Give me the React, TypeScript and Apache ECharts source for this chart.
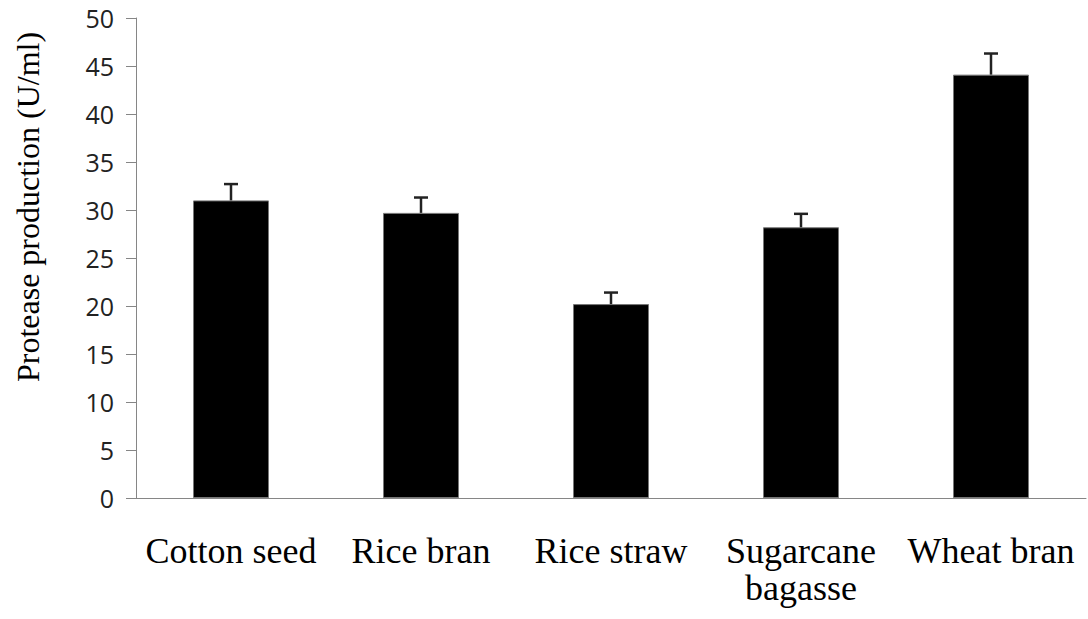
import React, { useEffect, useRef } from "react";
import * as echarts from "echarts";

const categories = ["Cotton seed", "Rice bran", "Rice straw", "Sugarcane bagasse", "Wheat bran"];
const values = [31.0, 29.7, 20.2, 28.2, 44.1];
const errorUpper = [32.7, 31.3, 21.4, 29.6, 46.3];
const yTicks = { min: 0, max: 50, interval: 5 };
const yAxisName = "Protease production (U/ml)";

export default function App() {
  const ref = useRef<HTMLDivElement>(null);
  useEffect(() => {
    if (!ref.current) return;
    const chart = echarts.init(ref.current, null, { renderer: "svg" });
    chart.setOption({
      animation: false,
      grid: { left: 136, right: 2, top: 18, bottom: 121, containLabel: false },
      xAxis: {
        type: "category",
        data: categories,
        axisLine: { lineStyle: { color: "#868686", width: 1 } },
        axisTick: { show: false },
        axisLabel: {
          interval: 0,
          margin: 34,
          color: "#000",
          fontFamily: "Liberation Serif",
          fontSize: 36,
          lineHeight: 37,
          formatter: (v: string) => (v === "Sugarcane bagasse" ? "Sugarcane\nbagasse" : v),
        },
      },
      yAxis: {
        type: "value",
        min: yTicks.min,
        max: yTicks.max,
        interval: yTicks.interval,
        name: yAxisName,
        nameLocation: "middle",
        nameGap: 92,
        nameRotate: 90,
        nameTextStyle: {
          fontFamily: "Liberation Serif",
          fontSize: 32,
          color: "#000",
          padding: [0, 0, 0, 102],
        },
        axisLine: { show: true, lineStyle: { color: "#868686", width: 1 } },
        axisTick: { show: true, length: 10, lineStyle: { color: "#868686" } },
        splitLine: { show: false },
        axisLabel: {
          margin: 22,
          color: "#222",
          fontFamily: "Open Sans",
          fontSize: 25,
        },
      },
      series: [
        {
          type: "bar",
          data: values,
          barCategoryGap: "60%",
          itemStyle: { color: "#000", borderColor: "#777", borderWidth: 1 },
          z: 2,
        },
        {
          type: "custom",
          data: values.map((v, i) => [i, v, errorUpper[i]]),
          z: 3,
          renderItem: (params: any, api: any) => {
            const i = api.value(0);
            const p0 = api.coord([i, api.value(1)]);
            const p1 = api.coord([i, api.value(2)]);
            const half = 7;
            const style = { stroke: "#222", lineWidth: 2.5 };
            return {
              type: "group",
              children: [
                { type: "line", shape: { x1: p0[0], y1: p0[1], x2: p1[0], y2: p1[1] }, style },
                { type: "line", shape: { x1: p1[0] - half, y1: p1[1], x2: p1[0] + half, y2: p1[1] }, style },
              ],
            };
          },
        },
      ],
    });
    return () => chart.dispose();
  }, []);
  return <div ref={ref} style={{ width: 1088, height: 619, position: "absolute", left: 0, top: 0 }} />;
}
